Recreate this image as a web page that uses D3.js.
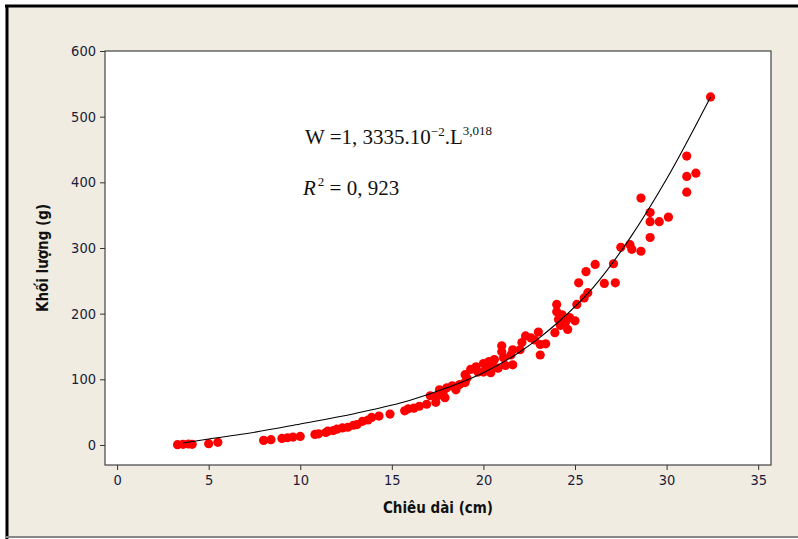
<!DOCTYPE html>
<html><head><meta charset="utf-8">
<script src="https://cdn.jsdelivr.net/npm/d3@7"></script>
<style>body{margin:0;background:#fff}svg{display:block}</style>
</head><body><svg id="c" width="798" height="539"></svg>
<script>
const lengths = [3.3,3.6,3.9,4.1,5.0,5.5,8.0,8.4,9.0,9.3,9.6,10.0,10.8,11.0,11.4,11.5,11.8,12.0,12.3,12.6,12.9,13.1,13.4,13.7,13.9,14.3,14.9,15.7,15.9,16.2,16.5,16.9,17.1,17.4,17.5,17.6,17.8,17.9,18.0,18.3,18.5,18.7,19.0,19.0,19.1,19.3,19.6,19.7,20.0,20.0,20.2,20.3,20.4,20.5,20.6,20.8,21.0,21.0,21.1,21.2,21.5,21.6,21.6,22.0,22.1,22.3,22.6,22.8,23.0,23.1,23.1,23.4,23.9,24.0,24.0,24.1,24.2,24.3,24.5,24.6,24.7,25.0,25.1,25.2,25.5,25.6,25.7,26.1,26.6,27.2,27.1,27.5,28.0,28.1,28.6,28.6,29.1,29.1,29.1,29.6,30.1,31.1,31.1,31.1,31.6,32.4];
const weights = [0.5,1,1.5,1,2,4,7,8,10,11,12,13,16,17,19,21,22,24,26,27,30,31,36,38,42,44,47,52,55,56,59,62,75,65,75,84,81,72,87,90,84,92,107,95,102,115,119,111,124,111,118,127,110,121,130,117,151,142,133,121,137,145,122,145,156,166,163,160,172,137,153,154,171,214,203,191,182,198,188,176,194,189,214,247,224,264,232,275,246,247,276,301,305,298,376,295,354,340,316,340,347,440,409,385,414,530];
const fitL = [3.6,5,7,10,13,16,18,20,22,23,24,26,28,30,32.4];
const fitW = [3,9,17,32,48,68,87,110,142,162,185,240,315,405,530];
const xTicks = [0,5,10,15,20,25,30,35];
const yTicks = [0,100,200,300,400,500,600];
const xTitle = "Chiêu dài (cm)";
const yTitle = "Khối lượng (g)";

const svg = d3.select("#c");
svg.append("rect").attr("x",6).attr("y",6).attr("width",800).attr("height",530).attr("fill","#F0ECE1");
svg.append("line").attr("x1",5).attr("x2",798).attr("y1",6).attr("y2",6).attr("stroke","#000").attr("stroke-width",3);
svg.append("line").attr("x1",7).attr("x2",7).attr("y1",5).attr("y2",539).attr("stroke","#000").attr("stroke-width",3);
svg.append("line").attr("x1",6).attr("x2",798).attr("y1",537).attr("y2",537).attr("stroke","#888").attr("stroke-width",2);

const L = 105, R = 771, T = 51, B = 465;
const x = d3.scaleLinear().domain([-0.66,35.7]).range([L,R]);
const y = d3.scaleLinear().domain([-30.5,600]).range([B,T]);

svg.append("rect").attr("x",L).attr("y",T).attr("width",R-L).attr("height",B-T)
  .attr("fill","#fff").attr("stroke","#444").attr("stroke-width",1.2);

const tickColor = "#1c1c3a";
const font = "'DejaVu Sans Condensed','DejaVu Sans',sans-serif";
const xa = svg.append("g").attr("transform",`translate(0,${B})`)
  .call(d3.axisBottom(x).tickValues(xTicks).tickSize(5).tickPadding(5).tickFormat(d3.format("d")));
const ya = svg.append("g").attr("transform",`translate(${L},0)`)
  .call(d3.axisLeft(y).tickValues(yTicks).tickSize(5).tickPadding(4).tickFormat(d3.format("d")));
[xa,ya].forEach(a=>{
  a.select(".domain").remove();
  a.selectAll("line").attr("stroke","#333");
  a.selectAll("text").attr("fill",tickColor).style("font-family",font).style("font-size","14.5px");
});

svg.append("text").attr("x",(L+R)/2).attr("y",513).attr("text-anchor","middle")
  .style("font-family",font).style("font-size","15px").style("font-weight","bold").attr("fill","#111")
  .text(xTitle);
svg.append("text").attr("transform",`translate(48,${(T+B)/2}) rotate(-90)`).attr("text-anchor","middle")
  .style("font-family",font).style("font-size","15px").style("font-weight","bold").attr("fill","#111")
  .text(yTitle);

const pts = lengths.map((l,i)=>[l,weights[i]]);
svg.append("g").selectAll("circle").data(pts).enter().append("circle")
  .attr("cx",d=>x(d[0])).attr("cy",d=>y(d[1])).attr("r",4.6).attr("fill","#FF0000");

const fit = fitL.map((l,i)=>[l,fitW[i]]);
svg.append("path").datum(fit).attr("fill","none").attr("stroke","#000").attr("stroke-width",1.1)
  .attr("d",d3.line().x(d=>x(d[0])).y(d=>y(d[1])).curve(d3.curveMonotoneX));

const serif = "'Liberation Serif','Times New Roman',serif";
const eq = svg.append("text").attr("x",305).attr("y",144).style("font-family",serif).style("font-size","21px").attr("fill","#111");
eq.append("tspan").text("W =1, 3335.10");
eq.append("tspan").attr("dy",-8).style("font-size","13px").text("−2");
eq.append("tspan").attr("dy",8).text(".L");
eq.append("tspan").attr("dy",-9).style("font-size","13px").text("3,018");
const r2 = svg.append("text").attr("x",303).attr("y",195).style("font-family",serif).style("font-size","21px").attr("fill","#111");
r2.append("tspan").style("font-style","italic").text("R");
r2.append("tspan").attr("dy",-9).attr("dx",2).style("font-size","13px").text("2");
r2.append("tspan").attr("dy",9).text(" = 0, 923");
</script></body></html>
